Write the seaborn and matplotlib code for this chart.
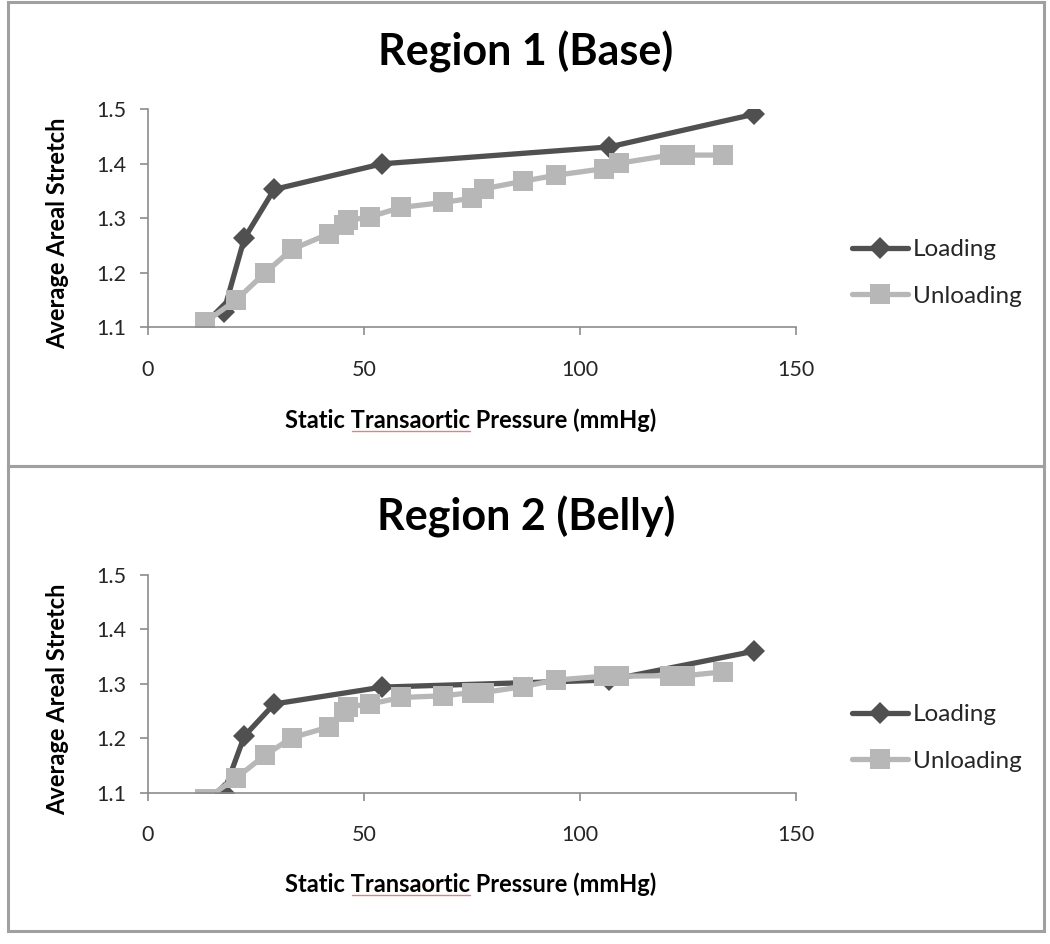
import numpy as np
import pandas as pd
import matplotlib
matplotlib.use("Agg")
import matplotlib.pyplot as plt
import seaborn as sns
from matplotlib.patches import Rectangle
from matplotlib.lines import Line2D

# --- data ---
load_p = [17.5, 22.3, 29.2, 54.2, 106.8, 140.3]
load_base = [1.128, 1.263, 1.353, 1.400, 1.431, 1.491]
load_belly = [1.100, 1.204, 1.263, 1.294, 1.307, 1.360]

unload_p = [13.3, 20.4, 27.1, 33.3, 42.0, 45.4, 46.4, 51.5, 58.6, 68.3, 75.0, 77.7,
            86.8, 94.4, 105.5, 109.0, 120.9, 124.3, 133.2]
unload_base = [1.110, 1.150, 1.200, 1.243, 1.272, 1.288, 1.296, 1.303, 1.320, 1.329,
               1.337, 1.354, 1.368, 1.379, 1.391, 1.401, 1.416, 1.416, 1.416]
unload_belly = [1.088, 1.127, 1.169, 1.201, 1.221, 1.249, 1.258, 1.263, 1.275, 1.278,
                1.284, 1.284, 1.295, 1.307, 1.314, 1.314, 1.315, 1.315, 1.322]

titles = ["Region 1 (Base)", "Region 2 (Belly)"]
x_ticks = [0, 50, 100, 150]
y_ticks = [1.1, 1.2, 1.3, 1.4, 1.5]

dark = "#505050"
light = "#b7b7b7"
axis_gray = "#8c8c8c"

sns.set_style("white")
plt.rcParams['font.family'] = ['Lato', 'DejaVu Sans']

W, H = 1050, 944
fig = plt.figure(figsize=(W / 100, H / 100), dpi=100)

def fx(px):
    return px / W

def fy(py):
    return 1 - py / H

# panel frames
for top, bot in [(2, 466), (466, 931)]:
    fig.patches.append(Rectangle((fx(8), fy(bot)), fx(1044) - fx(8), fy(top) - fy(bot),
                                 transform=fig.transFigure, fill=False,
                                 edgecolor="#a0a0a0", linewidth=2.2))

panels = [
    dict(top=109.3, bot=327.3, title_y=52, xlab_y=420, leg_y=273, load=load_base, unload=unload_base),
    dict(top=575.0, bot=792.7, title_y=517, xlab_y=884, leg_y=738, load=load_belly, unload=unload_belly),
]

for i, p in enumerate(panels):
    ax = fig.add_axes([fx(148), fy(p["bot"]), fx(796) - fx(148), (p["bot"] - p["top"]) / H])
    sns.lineplot(x=load_p, y=p["load"], ax=ax, color=dark, linewidth=3.8, marker="D",
                 markersize=11.5, markeredgewidth=0, sort=False, label="Loading")
    sns.lineplot(x=unload_p, y=p["unload"], ax=ax, color=light, linewidth=3.8, marker="s",
                 markersize=15, markeredgewidth=0, sort=False, label="Unloading")
    ax.set_xlim(0, 150)
    ax.set_ylim(1.1, 1.5)
    ax.set_xticks(x_ticks)
    ax.set_yticks(y_ticks)
    ax.set_xticklabels([str(v) for v in x_ticks])
    ax.set_yticklabels([f"{v:.1f}" for v in y_ticks])
    for s in ["top", "right"]:
        ax.spines[s].set_visible(False)
    for s in ["left", "bottom"]:
        ax.spines[s].set_color(axis_gray)
        ax.spines[s].set_linewidth(1.2)
    ax.tick_params(axis="both", which="major", direction="out", length=5.5, width=1.2,
                   color=axis_gray, labelsize=15.5, labelcolor="#262626")
    ax.tick_params(axis="x", pad=18, bottom=True)
    ax.tick_params(axis="y", pad=10, left=True)
    ax.set_xlabel("")
    ax.set_ylabel("")
    ax.legend(loc="center left", bbox_to_anchor=(fx(852), fy(p["leg_y"])),
              bbox_transform=fig.transFigure, frameon=False, fontsize=17.5,
              handlelength=2.3, handletextpad=0.2, labelspacing=1.05,
              borderpad=0, borderaxespad=0)

    fig.text(fx(526), fy(p["title_y"]), titles[i], ha="center", va="center",
             fontsize=31, fontweight="bold", color="black")
    fig.text(fx(471), fy(p["xlab_y"]), "Static Transaortic Pressure (mmHg)", ha="center",
             va="center", fontsize=17, fontweight="bold", color="black")
    fig.text(fx(58), fy((p["top"] + p["bot"]) / 2 + 15), "Average Areal Stretch", ha="center",
             va="center", rotation=90, fontsize=17, fontweight="bold", color="black")
    # spell-check squiggle under "Transaortic"
    fig.add_artist(Line2D([fx(352), fx(470)], [fy(p["xlab_y"] + 11)] * 2,
                          transform=fig.transFigure, color="#e58080", linewidth=1.0))

fig.savefig("out.png", dpi=100, facecolor="white")
